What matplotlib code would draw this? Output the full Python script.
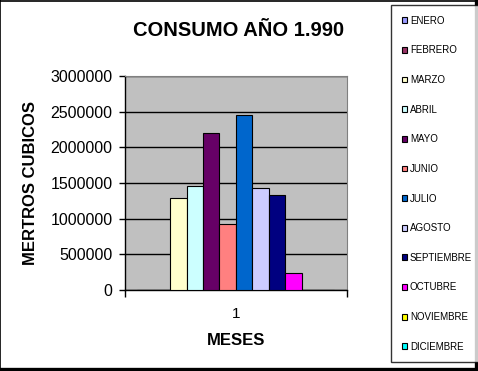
import matplotlib
matplotlib.use("Agg")
import matplotlib.pyplot as plt
from matplotlib.lines import Line2D

plt.rcParams['font.family'] = ['Liberation Sans', 'DejaVu Sans']

# DATA
meses = ["ENERO", "FEBRERO", "MARZO", "ABRIL", "MAYO", "JUNIO", "JULIO",
         "AGOSTO", "SEPTIEMBRE", "OCTUBRE", "NOVIEMBRE", "DICIEMBRE"]
consumo = [0, 0, 1285000, 1453000, 2201000, 921000, 2453000,
           1425000, 1332000, 238000, 0, 0]
colores = ["#9999FF", "#993366", "#FFFFCC", "#CCFFFF", "#660066", "#FF8080",
           "#0066CC", "#CCCCFF", "#000080", "#FF00FF", "#FFFF00", "#00FFFF"]
yticks = [0, 500000, 1000000, 1500000, 2000000, 2500000, 3000000]

fig = plt.figure(figsize=(4.78, 3.71), dpi=100)
ax = fig.add_axes([0.2615, 0.2183, 0.4638, 0.5768])
ax.set_facecolor("#C0C0C0")

# bars grouped in one category, gap 150% of bar width
n = len(meses)
w = 1.0 / (n + 1.5)
start = 0.75 * w
for i in range(n):
    ax.bar(start + i * w + w / 2, consumo[i], width=w, color=colores[i],
           edgecolor="black", linewidth=0.8, label=meses[i], zorder=3)

ax.set_xlim(0, 1)
ax.set_ylim(0, 3000000)
ax.set_yticks(yticks)
ax.set_yticklabels([str(v) for v in yticks])
ax.yaxis.grid(True, color="black", linewidth=1.0, zorder=1)
ax.set_axisbelow(True)

ax.set_xticks([0, 1])
ax.set_xticklabels(["", ""])
ax.set_xticks([0.5], ["1"], minor=True)
ax.tick_params(axis="x", which="major", direction="out", length=5, width=1)
ax.tick_params(axis="x", which="minor", length=0, pad=12, labelsize=11)
ax.tick_params(axis="y", direction="out", length=4, width=1, pad=5, labelsize=11.5)

for s in ["top", "right"]:
    ax.spines[s].set_color("#808080")
for s in ["left", "bottom"]:
    ax.spines[s].set_color("black")
    ax.spines[s].set_linewidth(1.0)

fig.text(0.5, 0.918, "CONSUMO AÑO 1.990", ha="center", va="center",
         fontsize=14.5, fontweight="bold")
fig.text(0.063, 0.508, "MERTROS CUBICOS", ha="center", va="center",
         rotation=90, fontsize=12, fontweight="bold")
fig.text(0.494, 0.083, "MESES", ha="center", va="center",
         fontsize=12, fontweight="bold")

leg = fig.legend(loc="upper left", bbox_to_anchor=(391 / 478, 1 - 5 / 371),
                 frameon=True, fancybox=False, fontsize=7, labelspacing=2.02,
                 handlelength=0.55, handleheight=0.55, handletextpad=0.3,
                 borderpad=1.1, borderaxespad=0)
leg.get_frame().set_edgecolor("black")
leg.get_frame().set_linewidth(1.0)

# outer chart border (thin left/top, thick right/bottom)
fig.add_artist(Line2D([0.001, 0.001], [0.0, 1.0], transform=fig.transFigure,
                      color="black", linewidth=1.2))
fig.add_artist(Line2D([0.0, 1.0], [0.998, 0.998], transform=fig.transFigure,
                      color="black", linewidth=1.2))
fig.add_artist(Line2D([0.996, 0.996], [0.0, 1.0], transform=fig.transFigure,
                      color="black", linewidth=2.4))
fig.add_artist(Line2D([0.0, 1.0], [0.005, 0.005], transform=fig.transFigure,
                      color="black", linewidth=2.4))

fig.savefig("out.png", dpi=100)
